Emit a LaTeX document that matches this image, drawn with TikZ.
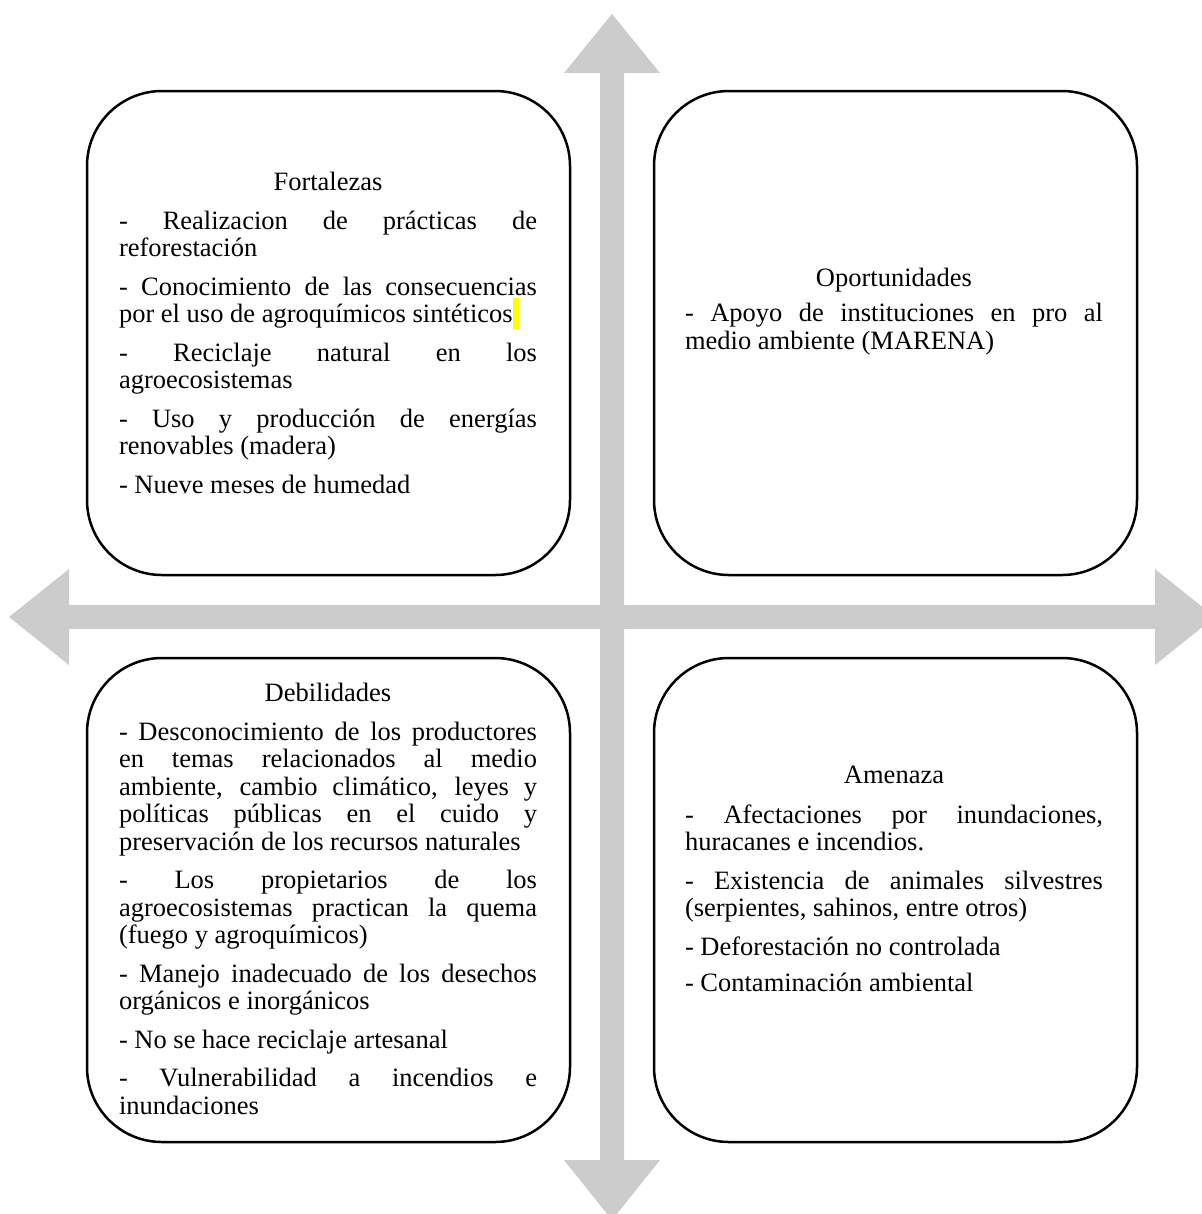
\documentclass[tikz,border=0pt]{standalone}
\usepackage{fontspec}
\setmainfont{Liberation Serif}
\definecolor{arrowgray}{RGB}{204,204,204}
\definecolor{marker}{RGB}{255,255,0}
\newlength\colw
\setlength\colw{418bp}
% a fully justified line of the text column
\newcommand\jl[1]{\makebox[\colw][s]{#1}}
% highlighted blank after a word
\newcommand\hlmark{\textcolor{marker}{\rule[-6.5bp]{6.6bp}{31bp}}}
% heading line, with a fixed strut so the first baseline is predictable
\newcommand\heading[1]{\makebox[\colw]{\rule{0pt}{20bp}#1}}

\begin{document}
\begin{tikzpicture}[x=1bp,y=-1bp,
  quad/.style={draw=black, line width=2.5bp, fill=white, rounded corners=75bp,
    minimum width=483bp, minimum height=484bp, inner sep=0pt, outer sep=0pt,
    anchor=north west},
  body/.style={anchor=north west, inner sep=0pt, outer sep=0pt, align=left,
    font=\fontsize{26.5bp}{27.5bp}\selectfont}]

\useasboundingbox (0,0) rectangle (1202,1214);

% the two grey double arrows that split the plane into quadrants
\begin{scope}
  \clip (0,0) rectangle (1202,1214);
  \fill[arrowgray] (612,14) -- (660,73) -- (624,73) -- (624,1160) -- (660,1160)
    -- (612,1220) -- (564,1160) -- (600,1160) -- (600,73) -- (564,73) -- cycle;
  \fill[arrowgray] (9,617) -- (69,569) -- (69,605) -- (1155,605) -- (1155,569)
    -- (1215,617) -- (1155,665) -- (1155,629) -- (69,629) -- (69,665) -- cycle;
\end{scope}

% quadrant frames
\node[quad] (F) at (87,91) {};
\node[quad] (O) at (654,91) {};
\node[quad] (D) at (87,658) {};
\node[quad] (A) at (654,658) {};

% quadrant texts
\node[body] (Ft) at (119,170.7) {%
  \heading{Fortalezas}\\[11bp]
  \jl{- Realizacion de prácticas de}\\
  reforestación\\[11bp]
  \jl{- Conocimiento de las consecuencias}\\
  por el uso de agroquímicos sintéticos\hlmark\\[11bp]
  \jl{- Reciclaje natural en los}\\
  agroecosistemas\\[11bp]
  \jl{- Uso y producción de energías}\\
  renovables (madera)\\[11bp]
  - Nueve meses de humedad};

\node[body] (Ot) at (685,266.7) {%
  \heading{Oportunidades}\\[7.5bp]
  \jl{- Apoyo de instituciones en pro al}\\
  medio ambiente (MARENA)};

\node[body] (Dt) at (119,681.7) {%
  \heading{Debilidades}\\[11bp]
  \jl{- Desconocimiento de los productores}\\
  \jl{en temas relacionados al medio}\\
  \jl{ambiente, cambio climático, leyes y}\\
  \jl{políticas públicas en el cuido y}\\
  preservación de los recursos naturales\\[11bp]
  \jl{- Los propietarios de los}\\
  \jl{agroecosistemas practican la quema}\\
  (fuego y agroquímicos)\\[11bp]
  \jl{- Manejo inadecuado de los desechos}\\
  orgánicos e inorgánicos\\[11bp]
  - No se hace reciclaje artesanal\\[11bp]
  \jl{- Vulnerabilidad a incendios e}\\
  inundaciones};

\node[body] (At) at (685,763.3) {%
  \heading{Amenaza}\\[12.5bp]
  \jl{- Afectaciones por inundaciones,}\\
  huracanes e incendios.\\[11bp]
  \jl{- Existencia de animales silvestres}\\
  (serpientes, sahinos, entre otros)\\[11bp]
  - Deforestación no controlada\\[9bp]
  - Contaminación ambiental};

\end{tikzpicture}
\end{document}
